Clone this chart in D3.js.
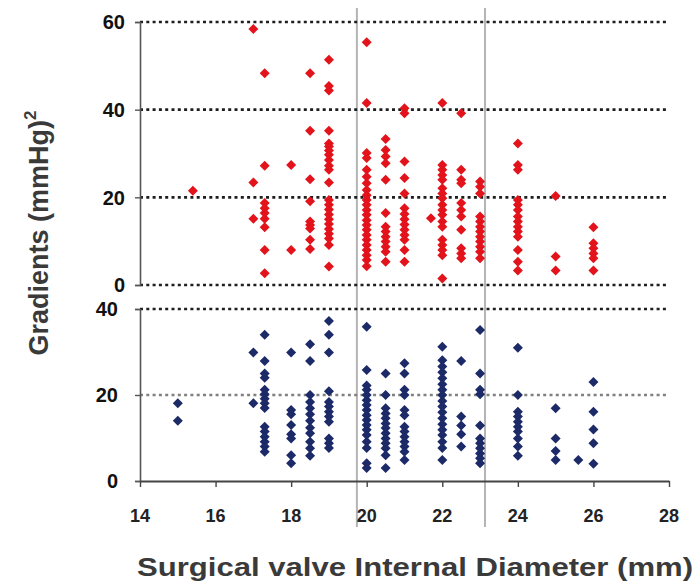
<!DOCTYPE html>
<html>
<head>
<meta charset="utf-8">
<script src="https://cdn.jsdelivr.net/npm/d3@7"></script>
<style>
  body { margin: 0; background: #fff; }
  svg { display: block; font-family: "Liberation Sans", Arial, sans-serif; }
</style>
</head>
<body>
<script>
// x positions (valve internal diameter, mm)
const topColumns = [15.4, 17.0, 17.3, 18.0, 18.5, 19.0, 20.0, 20.5, 21.0, 21.7, 22.0, 22.5, 23.0, 24.0, 25.0, 26.0];
// red series (upper panel), one array per column
const topValues = [
  [21.5],
  [58.4, 23.4, 15.1],
  [48.3, 27.2, 18.7, 17.5, 16.4, 15.1, 13.2, 8.0, 2.7],
  [27.4, 8.0],
  [48.3, 35.2, 24.1, 19.1, 14.5, 13.7, 12.9, 10.3, 8.2],
  [51.4, 45.4, 44.4, 35.2, 32.3, 31.6, 30.7, 29.7, 28.5, 27.2, 26.3, 23.4, 19.4, 18.3, 17.2, 16.1, 15.0, 13.9, 12.8, 11.7, 10.6, 9.1, 4.2],
  [55.4, 41.5, 30.1, 29.0, 26.3, 24.7, 23.2, 21.7, 20.5, 19.4, 18.3, 17.1, 16.0, 14.8, 13.7, 12.6, 11.4, 10.3, 9.1, 8.0, 6.8, 5.7, 4.3],
  [33.3, 30.8, 29.3, 27.8, 24.0, 16.4, 13.3, 12.2, 11.0, 9.9, 8.7, 7.6, 5.3],
  [40.3, 39.2, 28.2, 24.4, 20.9, 17.5, 16.2, 15.0, 13.8, 12.6, 11.4, 10.3, 8.0, 5.3],
  [15.2],
  [41.5, 27.4, 26.3, 25.1, 24.0, 22.1, 20.9, 19.8, 18.3, 17.1, 16.0, 14.5, 13.3, 10.3, 9.1, 8.0, 6.8, 1.5],
  [39.2, 26.3, 24.0, 23.2, 18.7, 17.1, 15.6, 12.6, 8.4, 7.2, 6.1],
  [23.6, 22.4, 20.9, 15.6, 14.5, 13.3, 12.2, 11.0, 9.9, 8.7, 7.6, 6.1],
  [32.3, 27.4, 26.3, 19.4, 18.3, 17.1, 15.6, 14.5, 13.3, 12.2, 11.0, 8.0, 5.3, 3.3],
  [20.3, 6.5, 3.3],
  [13.2, 9.5, 8.4, 7.2, 6.1, 3.3]
];

const bottomColumns = [15.0, 17.0, 17.3, 18.0, 18.5, 19.0, 20.0, 20.5, 21.0, 22.0, 22.5, 23.0, 24.0, 25.0, 25.6, 26.0];
// blue series (lower panel)
const bottomValues = [
  [18.1, 14.0],
  [29.9, 18.1],
  [34.0, 27.9, 25.0, 24.0, 21.2, 20.2, 19.1, 18.1, 17.0, 12.6, 11.5, 10.3, 9.1, 8.0, 6.8],
  [29.9, 16.5, 15.5, 13.0, 10.9, 9.9, 6.0, 4.1],
  [31.8, 27.9, 20.0, 18.4, 16.9, 15.5, 14.0, 12.4, 11.1, 9.1, 7.6, 5.9],
  [37.2, 34.0, 29.9, 20.9, 18.4, 17.3, 16.1, 15.0, 13.8, 9.9, 8.8, 7.7],
  [35.9, 25.8, 22.2, 21.2, 20.0, 18.8, 17.7, 16.5, 15.3, 14.2, 13.0, 11.9, 10.7, 9.1, 7.7, 4.1, 3.0],
  [25.0, 20.0, 16.9, 15.7, 14.6, 13.4, 12.3, 11.1, 9.9, 8.8, 7.6, 6.0, 3.0],
  [27.4, 25.0, 21.2, 20.0, 16.5, 15.3, 12.6, 11.5, 10.3, 9.1, 8.0, 6.8, 4.9],
  [31.2, 28.1, 26.6, 25.3, 23.9, 22.5, 21.2, 20.0, 18.6, 17.3, 16.0, 14.6, 13.2, 11.9, 10.7, 9.1, 7.7, 4.9],
  [27.9, 15.0, 12.9, 10.9, 8.0],
  [35.1, 25.0, 21.2, 20.2, 12.9, 9.9, 8.8, 7.6, 6.4, 5.3, 4.1],
  [31.0, 20.0, 16.1, 15.0, 13.8, 12.6, 11.5, 9.9, 8.0, 5.9],
  [16.9, 9.9, 7.0, 4.9],
  [4.9],
  [23.0, 16.1, 12.0, 8.8, 4.0]
];

const xTicks = [14, 16, 18, 20, 22, 24, 26, 28];
const topTicks = [0, 20, 40, 60];
const bottomTicks = [0, 20, 40];
const refLines = [19.74, 23.13];

const width = 700, height = 582;

const svg = d3.select('body').append('svg')
  .attr('width', width)
  .attr('height', height);

const x = d3.scaleLinear().domain([14, 28]).range([140, 669]);
const yTop = d3.scaleLinear().domain([0, 60]).range([285, 22]);
const yBot = d3.scaleLinear().domain([0, 40]).range([481, 309]);

// vertical grey reference lines
svg.selectAll('line.ref')
  .data(refLines)
  .enter().append('line')
  .attr('class', 'ref')
  .attr('x1', d => x(d)).attr('x2', d => x(d))
  .attr('y1', 8).attr('y2', 527)
  .attr('stroke', '#b4b4b4')
  .attr('stroke-width', 2);

// dotted gridlines
function grid(scale, ticks, colorFor) {
  svg.append('g')
    .selectAll('line')
    .data(ticks)
    .enter().append('line')
    .attr('x1', x(14)).attr('x2', x(28))
    .attr('y1', d => scale(d)).attr('y2', d => scale(d))
    .attr('stroke', colorFor)
    .attr('stroke-width', 2.6)
    .attr('stroke-dasharray', '3,3.3');
}
grid(yTop, topTicks, () => '#1e1e1e');
grid(yBot, bottomTicks.filter(d => d > 0), d => d === 20 ? '#808080' : '#1e1e1e');

// y axes
function yAxis(scale, ticks, labelX) {
  const g = svg.append('g')
    .attr('transform', 'translate(140,0)')
    .call(d3.axisLeft(scale).tickValues(ticks).tickSize(5).tickFormat(''));
  g.select('.domain').attr('stroke', '#555').attr('stroke-width', 1.6);
  g.selectAll('.tick line').attr('stroke', '#555').attr('stroke-width', 1.4);
  svg.append('g').selectAll('text')
    .data(ticks)
    .enter().append('text')
    .attr('x', labelX)
    .attr('y', d => scale(d))
    .attr('dy', '0.36em')
    .attr('text-anchor', 'end')
    .attr('font-size', 20)
    .attr('font-weight', 'bold')
    .attr('fill', '#111')
    .text(d => d);
}
yAxis(yTop, topTicks, 125);
yAxis(yBot, bottomTicks, 118);

// x axis (bottom panel)
const xg = svg.append('g')
  .attr('transform', `translate(0,${yBot(0)})`)
  .call(d3.axisBottom(x).tickValues(xTicks).tickSize(6).tickSizeOuter(0).tickFormat(''));
xg.select('.domain').attr('stroke', '#444').attr('stroke-width', 2);
xg.selectAll('.tick line').attr('stroke', '#444').attr('stroke-width', 1.4);
svg.append('g').selectAll('text')
  .data(xTicks)
  .enter().append('text')
  .attr('x', d => x(d))
  .attr('y', 522)
  .attr('text-anchor', 'middle')
  .attr('font-size', 18)
  .attr('font-weight', 'bold')
  .attr('fill', '#222')
  .text(d => d);

// markers
const diamond = d3.symbol().type(d3.symbolSquare).size(50)();

function points(columns, values, scale, color) {
  const pts = [];
  columns.forEach((c, i) => values[i].forEach(v => pts.push([c, v])));
  svg.append('g').selectAll('path')
    .data(pts)
    .enter().append('path')
    .attr('d', diamond)
    .attr('transform', d => `translate(${x(d[0])},${scale(d[1])}) rotate(45)`)
    .attr('fill', color);
}
points(topColumns, topValues, yTop, '#e3131b');
points(bottomColumns, bottomValues, yBot, '#1c2a68');

// axis titles
const yt = svg.append('text')
  .attr('transform', 'translate(48,233) rotate(-90)')
  .attr('text-anchor', 'middle')
  .attr('font-size', 27)
  .attr('font-weight', 'bold')
  .attr('fill', '#3a3a3a');
yt.append('tspan').text('Gradients (mmHg)');
yt.append('tspan').attr('font-size', 17).attr('dy', -12).text('2');

svg.append('text')
  .attr('x', 137)
  .attr('y', 576)
  .attr('textLength', 556)
  .attr('lengthAdjust', 'spacingAndGlyphs')
  .attr('font-size', 26)
  .attr('font-weight', 'bold')
  .attr('fill', '#3a3a3a')
  .text('Surgical valve Internal Diameter (mm)');
</script>
</body>
</html>
